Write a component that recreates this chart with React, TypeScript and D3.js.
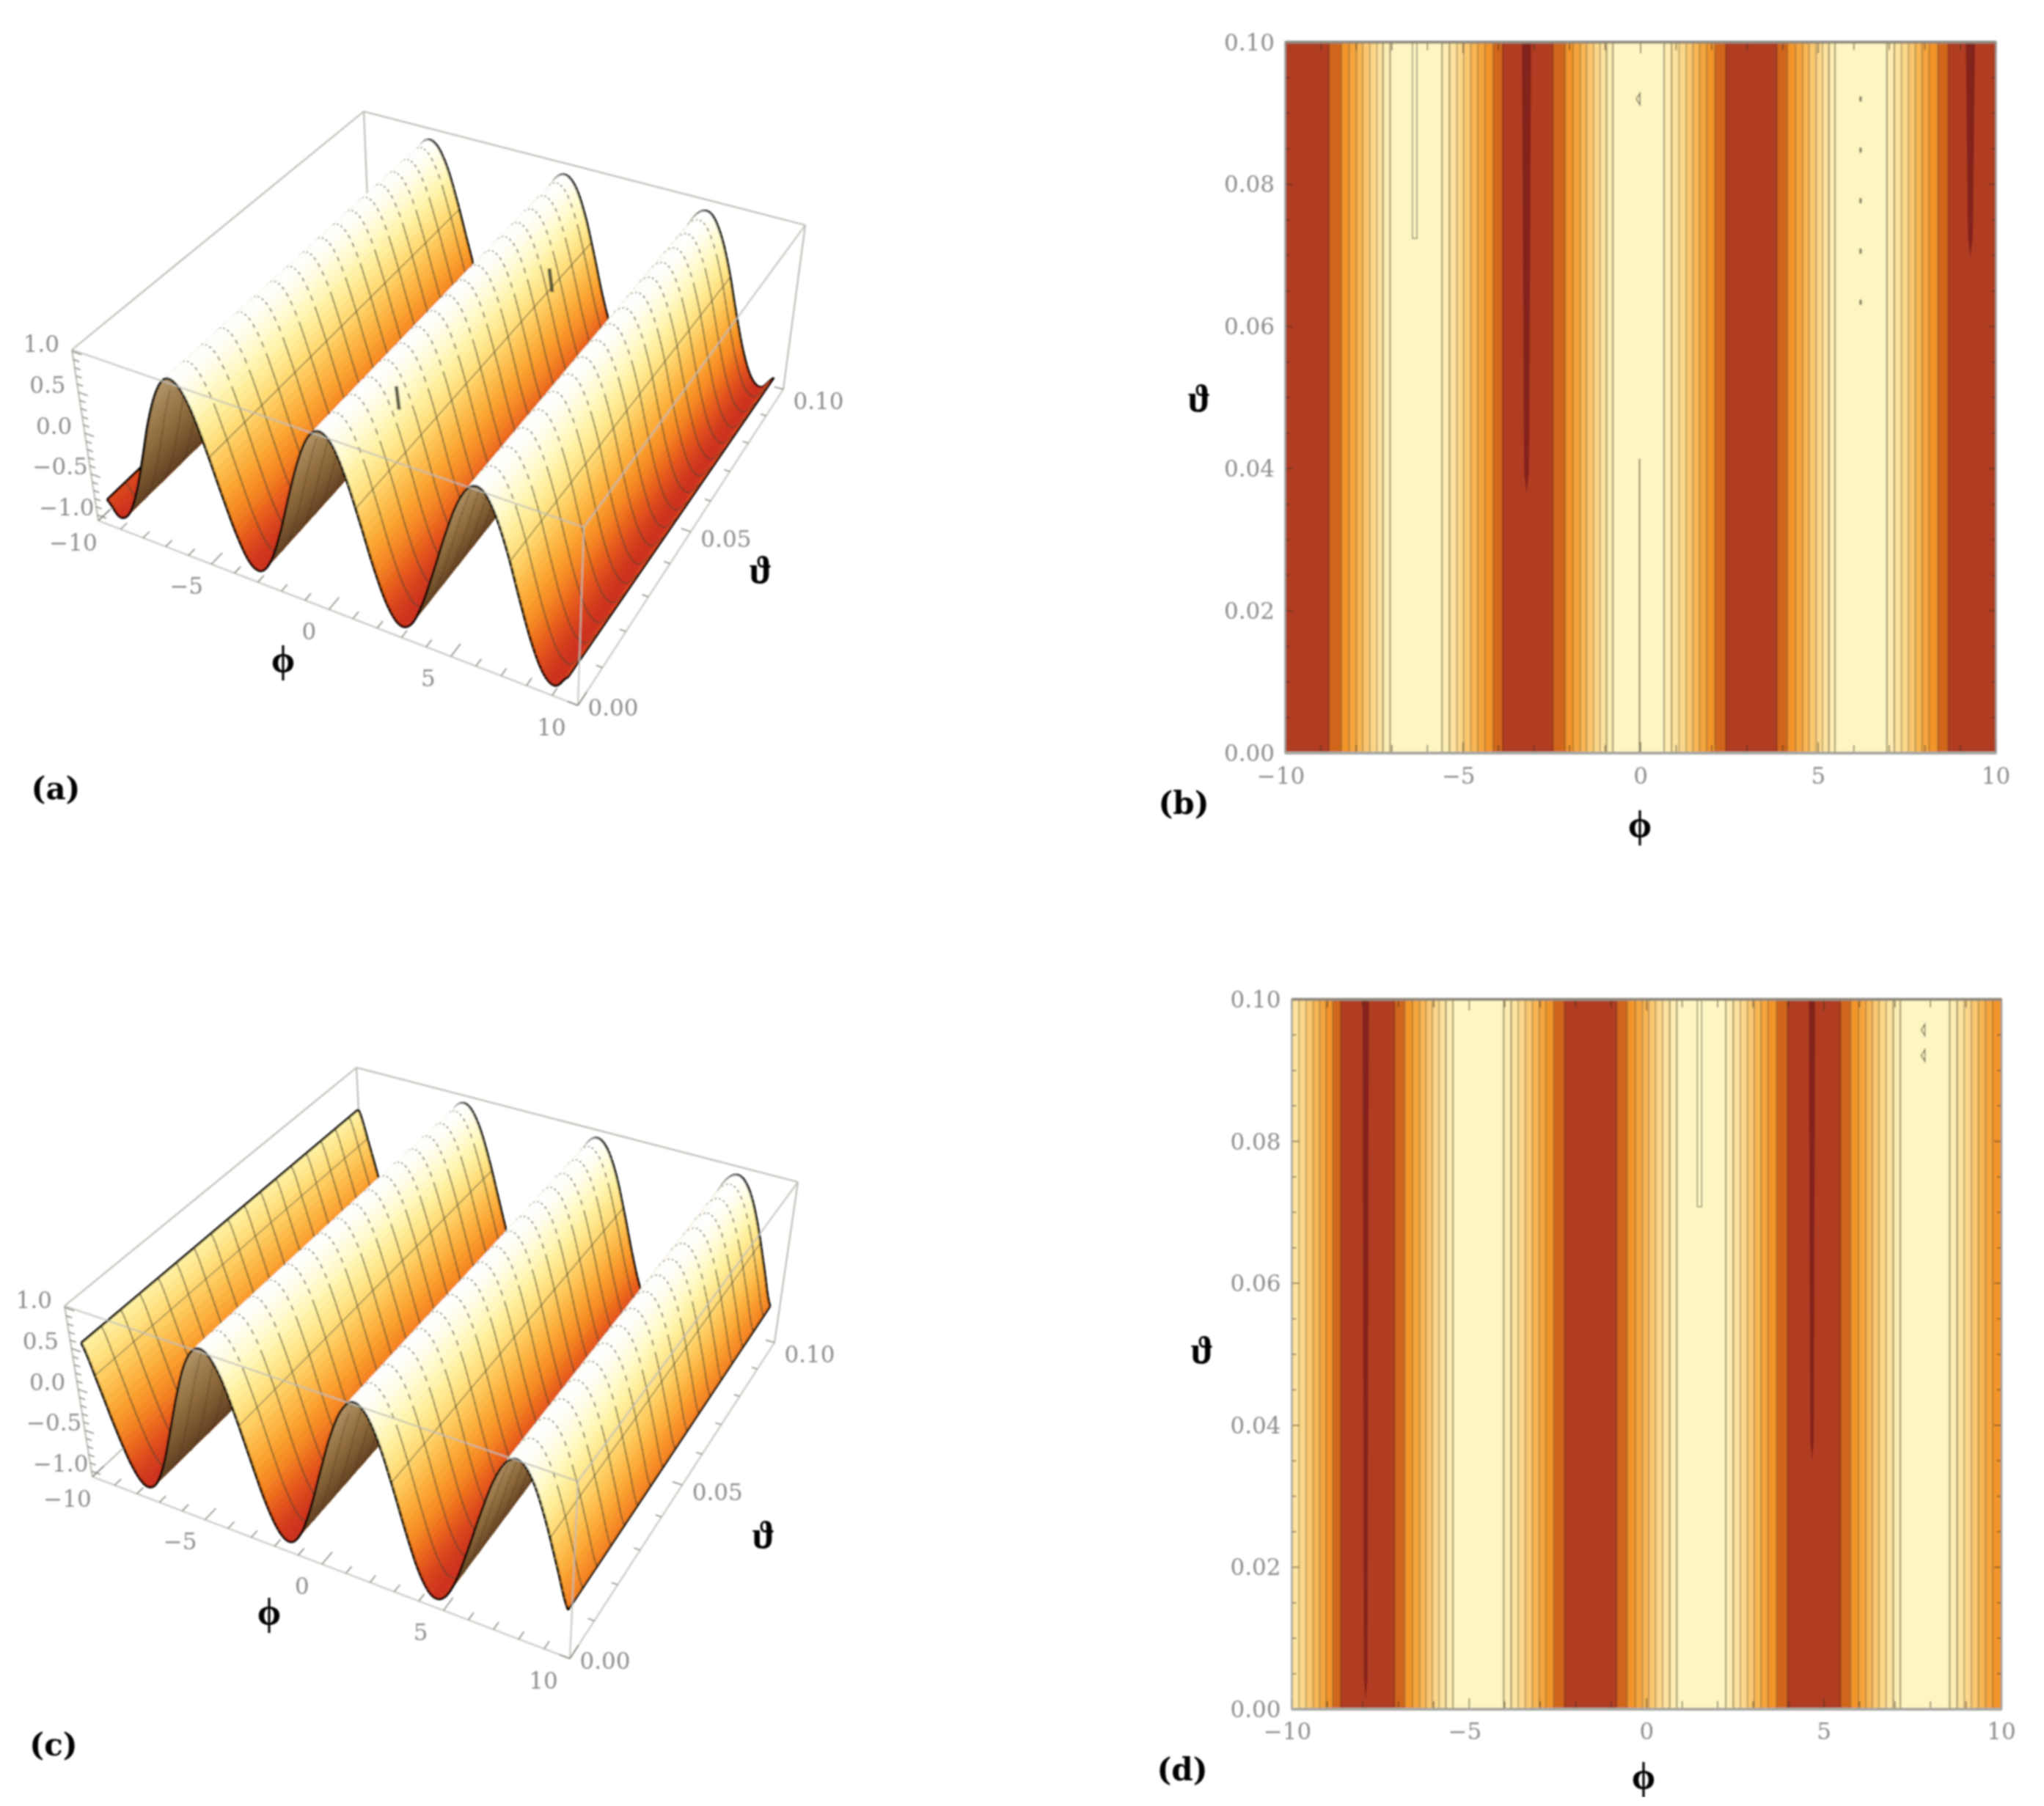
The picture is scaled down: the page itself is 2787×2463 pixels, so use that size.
import React from "react";
import * as d3 from "d3";

// ---------- values ----------
const PHI_GRID = [-10,-9.5,-9,-8.5,-8,-7.5,-7,-6.5,-6,-5.5,-5,-4.5,-4,-3.5,-3,-2.5,-2,-1.5,-1,-0.5,0,0.5,1,1.5,2,2.5,3,3.5,4,4.5,5,5.5,6,6.5,7,7.5,8,8.5,9,9.5,10];
const Z_A = [-0.84,-1,-0.91,-0.6,-0.15,0.35,0.75,0.98,0.96,0.71,0.28,-0.21,-0.65,-0.94,-0.99,-0.8,-0.42,0.07,0.54,0.88,1,0.88,0.54,0.07,-0.42,-0.8,-0.99,-0.94,-0.65,-0.21,0.28,0.71,0.96,0.98,0.75,0.35,-0.15,-0.6,-0.91,-1,-0.84];
const Z_C = [0.54,0.08,-0.41,-0.8,-0.99,-0.94,-0.66,-0.21,0.28,0.71,0.96,0.98,0.76,0.35,-0.14,-0.6,-0.91,-1,-0.84,-0.48,0,0.48,0.84,1,0.91,0.6,0.14,-0.35,-0.76,-0.98,-0.96,-0.71,-0.28,0.21,0.66,0.94,0.99,0.8,0.41,-0.08,-0.54];

const BAND_COLORS = ["#b03c24","#d0661f","#f2942a","#f5a53e","#f8b654","#fac770","#fcd78a","#fde39f","#fdedb2","#fdf5c2"];
const UP = [1,2,3,4,5,6,7,8,9];
const DOWN = [8,7,6,5,4,3,2,1,0];

const EDGES_B = [
  -8.77,-8.42,-8.2,-8,-7.82,-7.62,-7.42,-7.25,-7.05,
  -5.59,-5.38,-5.17,-4.98,-4.78,-4.58,-4.38,-4.15,-3.88,
  -2.47,-2.12,-1.9,-1.7,-1.52,-1.32,-1.14,-0.96,-0.78,
  0.66,0.87,1.08,1.28,1.47,1.66,1.86,2.09,2.4,
  3.83,4.13,4.36,4.56,4.74,4.94,5.12,5.3,5.47,
  6.93,7.14,7.34,7.54,7.73,7.92,8.12,8.36,8.66,
];
const LEVELS_B = [0,...UP,...DOWN,...UP,...DOWN,...UP,...DOWN];

const EDGES_D = [
  -9.8,-9.6,-9.4,-9.22,-9.04,-8.85,-8.62,
  -7.11,-6.82,-6.6,-6.4,-6.22,-6.04,-5.85,-5.66,-5.46,
  -4.03,-3.82,-3.62,-3.42,-3.22,-3.03,-2.84,-2.62,-2.31,
  -0.85,-0.55,-0.32,-0.12,0.06,0.25,0.45,0.65,0.85,
  2.23,2.44,2.64,2.84,3.03,3.22,3.42,3.66,3.97,
  5.46,5.75,5.97,6.18,6.36,6.55,6.75,6.95,7.15,
  8.54,8.75,8.95,9.15,9.35,9.55,9.75,
];
const LEVELS_D = [7,6,5,4,3,2,1,0,...UP,...DOWN,...UP,...DOWN,...UP,8,7,6,5,4,3,2];

// dark streaks and closed contours: [phi, theta where it ends, half width in phi]
const STREAKS_B = [[-3.21,0.0365,0.13],[9.28,0.0697,0.13]];
const STREAKS_D = [[-7.92,0.0013,0.09],[4.66,0.0349,0.09]];
const THIN_B = [-6.36,0.0724];
const THIN_D = [1.49,0.0708];
const LINE_B = [-0.03,0.0414];
const DOTS_B = [[6.19,0.092],[6.19,0.0848],[6.19,0.0777],[6.19,0.0706],[6.19,0.0634]];
const MARKS_B = [[-0.06,0.092]];
const MARKS_D = [[7.8,0.0957],[7.8,0.0921]];

const PHI_TICKS = [-10,-9,-8,-7,-6,-5,-4,-3,-2,-1,0,1,2,3,4,5,6,7,8,9,10];
const PHI_MAJOR = [-10,-5,0,5,10];
const THETA_MAJOR_2D = [0,0.02,0.04,0.06,0.08,0.1];
const THETA_TICKS_2D = [0,0.005,0.01,0.015,0.02,0.025,0.03,0.035,0.04,0.045,0.05,0.055,0.06,0.065,0.07,0.075,0.08,0.085,0.09,0.095,0.1];
const THETA_TICKS_3D = [0,0.01,0.02,0.03,0.04,0.05,0.06,0.07,0.08,0.09,0.1];
const THETA_MAJOR_3D = [0,0.05,0.1];
const Z_TICKS = [-1,-0.9,-0.8,-0.7,-0.6,-0.5,-0.4,-0.3,-0.2,-0.1,0,0.1,0.2,0.3,0.4,0.5,0.6,0.7,0.8,0.9,1];
const Z_MAJOR = [-1,-0.5,0,0.5,1];
const MESH_THETAS = [0.006,0.012,0.018,0.024,0.03,0.036,0.042,0.048,0.054,0.06,0.066,0.072,0.078,0.084,0.09,0.096];
const MESH_PHI_A = [-4.9,1.35,7.6];
const MESH_PHI_C = [-3.35,2.95,9.2,-9.6];
const GLITCH_A = [[0.9,0.02],[1.4,0.08]];

// ---------- styles ----------
const SERIF = "'DejaVu Serif', serif";
const GREEK = "'Liberation Serif', serif";
const TICK_FILL = "#8d8d8d";
const TICK_SIZE = 31;

const zColor = d3.scaleLinear<string>()
  .domain([-1,-0.75,-0.5,-0.25,0,0.25,0.5,0.75,1])
  .range(["#cc321f","#e5581c","#f48422","#faa432","#fdc050","#ffdc78","#fff0a0","#fffbd0","#ffffff"])
  .interpolate(d3.interpolateRgb as any);
const underColor = d3.scaleLinear<string>()
  .domain([-1,0,1])
  .range(["#5a3a1e","#8f6c3d","#b89c70"])
  .interpolate(d3.interpolateRgb as any);

type Pt = [number, number];
type Corners = { fl0: Pt; fr0: Pt; br0: Pt; bl0: Pt; fl1: Pt; fr1: Pt; br1: Pt; bl1: Pt };

const phiS = d3.scaleLinear().domain([-10,10]).range([0,1]);
const thetaS = d3.scaleLinear().domain([0,0.1]).range([0,1]);
const zS = d3.scaleLinear().domain([-1.07,1.02]).range([0,1]);
const warp = (t: number, k: number) => t / (t + k * (1 - t));

function makeProject(c: Corners) {
  return (phi: number, theta: number, z: number): Pt => {
    const u = warp(phiS(phi), 1.08), v = warp(thetaS(theta), 0.82), w = zS(z);
    const mix = (i: 0 | 1) => {
      const a0 = c.fl0[i] * (1 - u) + c.fr0[i] * u, b0 = c.bl0[i] * (1 - u) + c.br0[i] * u;
      const a1 = c.fl1[i] * (1 - u) + c.fr1[i] * u, b1 = c.bl1[i] * (1 - u) + c.br1[i] * u;
      const p0 = a0 * (1 - v) + b0 * v, p1 = a1 * (1 - v) + b1 * v;
      return p0 * (1 - w) + p1 * w;
    };
    return [mix(0), mix(1)];
  };
}

// the sheet sits slightly inside the drawn box: offsets of its front-left, front-right, back-right, back-left
function inset(c: Corners, o: number[][]): Corners {
  const s = (p: Pt, d: number[]): Pt => [p[0] + d[0], p[1] + d[1]];
  return { fl0: s(c.fl0, o[0]), fl1: s(c.fl1, o[0]), fr0: s(c.fr0, o[1]), fr1: s(c.fr1, o[1]), br0: s(c.br0, o[2]), br1: s(c.br1, o[2]), bl0: s(c.bl0, o[3]), bl1: s(c.bl1, o[3]) };
}

const gridIndex = d3.scaleLinear().domain([PHI_GRID[0], PHI_GRID[PHI_GRID.length - 1]]).range([0, PHI_GRID.length - 1]);
function profile(vals: number[], phi: number) {
  const t = gridIndex(phi);
  const i = Math.min(Math.floor(t), vals.length - 2);
  const f = t - i;
  const p0 = vals[Math.max(i - 1, 0)], p1 = vals[i], p2 = vals[i + 1], p3 = vals[Math.min(i + 2, vals.length - 1)];
  return 0.5 * (2 * p1 + (p2 - p0) * f + (2 * p0 - 5 * p1 + 4 * p2 - p3) * f * f + (3 * p1 - p0 - 3 * p2 + p3) * f * f * f);
}

const fmt2 = d3.format(".2f");
const fmt1 = d3.format(".1f");
const minus = (s: string) => s.replace("-", "−");

function Txt({ x, y, children, anchor = "middle", size = TICK_SIZE, fill = TICK_FILL, weight = "normal", family = SERIF }: any) {
  return <text x={x} y={y} textAnchor={anchor} dominantBaseline="central" fontFamily={family} fontSize={size} fill={fill} fontWeight={weight}>{children}</text>;
}

const PHI_LABEL_DX = [-34,-34,-27,-31,-36];
const THETA_LABEL_DY = [3,10,16];

function Surface({ corners, sheet, zs, meshPhi, glitches, phiLab, thetaLab, letter }: any) {
  const B = makeProject(corners);
  const P = makeProject(inset(corners, sheet));
  const N = 240;
  const phis = d3.range(N + 1).map((i) => -10 + (20 * i) / N);
  const line = d3.line();
  const boxColor = "#bdbdb6";
  const zFirst = profile(zs, -10), zLast = profile(zs, 10);
  const e = (a: Pt, b: Pt) => line([a, b]) as string;
  const strips = phis.slice(0, -1).map((p0, i) => {
    const p1 = phis[i + 1];
    const z0 = profile(zs, p0), z1 = profile(zs, p1);
    const q = [P(p0, 0, z0), P(p1, 0, z1), P(p1, 0.1, z1), P(p0, 0.1, z0)] as Pt[];
    const top = (d3.polygonArea(q) as number) > 0;
    const zm = (z0 + z1) / 2;
    const fill = top ? zColor(zm) : underColor(zm);
    const dotted = zm > 0.55;
    const mesh = (!dotted || i % 2 === 0) ? MESH_THETAS.map((t) => line([P(p0, t, z0), P(p1, t, z1)])).join("") : "";
    const cross = meshPhi.filter((m: number) => m >= p0 && m < p1).map((m: number) => line([P(m, 0, profile(zs, m)), P(m, 0.1, profile(zs, m))])).join("");
    return (
      <g key={i}>
        <path d={line(q) + "Z"} fill={fill} stroke={fill} strokeWidth={0.9} />
        {i === 0 && <path d={e(P(-10, 0, zFirst), P(-10, 0.1, zFirst))} stroke="#000" strokeWidth={3} fill="none" />}
        <path d={mesh} fill="none" stroke={top ? "#47442e" : "#3d2c18"} strokeOpacity={top ? 0.68 : 0.3} strokeWidth={1.9} />
        {cross && <path d={cross} fill="none" stroke="#4d4a33" strokeOpacity={0.55} strokeWidth={1.6} />}
        <path d={line([P(p0, 0.1, z0), P(p1, 0.1, z1)]) as string} fill="none" stroke="#000" strokeWidth={3} />
        <path d={line([P(p0, 0, z0), P(p1, 0, z1)]) as string} fill="none" stroke="#000" strokeWidth={3.2} />
      </g>
    );
  });
  const ticks: string[] = [];
  PHI_TICKS.forEach((p) => ticks.push(e(B(p, 0, -1.07), B(p, PHI_MAJOR.includes(p) ? 0.0035 : 0.002, -1.07))));
  THETA_TICKS_3D.forEach((t) => ticks.push(e(B(10, t, -1.07), B(THETA_MAJOR_3D.includes(t) ? 9.6 : 9.75, t, -1.07))));
  Z_TICKS.forEach((z) => ticks.push(e(B(-10, 0, z), B(Z_MAJOR.includes(z) ? -9.6 : -9.75, 0, z))));
  return (
    <g>
      <g fill="none" stroke={boxColor} strokeWidth={2.2}>
        <path d={e(corners.fl1, corners.bl1)} />
        <path d={e(corners.bl1, corners.br1)} />
        <path d={e(corners.bl0, corners.bl1)} />
        <path d={e(corners.fl0, corners.fl1)} />
        <path d={e(corners.bl0, corners.fl0)} />
        <path d={e(corners.br0, corners.br1)} />
      </g>
      {strips}
      <path d={e(P(10, 0, zLast), P(10, 0.1, zLast))} stroke="#000" strokeWidth={2.6} fill="none" />
      {glitches.map(([p, t]: number[], i: number) => {
        const a = P(p, t, profile(zs, p));
        return <path key={i} d={e(a, [a[0] - 4, a[1] - 32] as Pt)} stroke="#3a3a2a" strokeWidth={5} strokeOpacity={0.8} fill="none" />;
      })}
      <g fill="none" stroke={boxColor} strokeOpacity={0.85} strokeWidth={2.2}>
        <path d={e(corners.fl1, corners.fr1)} />
        <path d={e(corners.fr1, corners.br1)} />
        <path d={e(corners.fl0, corners.fr0)} />
        <path d={e(corners.fr0, corners.br0)} />
        <path d={e(corners.fr0, corners.fr1)} />
      </g>
      <path d={ticks.join("")} fill="none" stroke="#8a8a82" strokeWidth={1.6} />
      {PHI_MAJOR.map((p, i) => {
        const a = B(p, 0, -1.07);
        return <Txt key={p} x={a[0] + PHI_LABEL_DX[i]} y={a[1] + 30}>{minus(String(p))}</Txt>;
      })}
      {THETA_MAJOR_3D.map((t, i) => {
        const a = B(10, t, -1.07);
        return <Txt key={t} x={a[0] + 48} y={a[1] + THETA_LABEL_DY[i]}>{fmt2(t)}</Txt>;
      })}
      {Z_MAJOR.map((z) => {
        const a = B(-10, 0, z);
        return <Txt key={z} x={a[0] - 42} y={a[1] - 10}>{minus(fmt1(z))}</Txt>;
      })}
      <Txt x={phiLab[0]} y={phiLab[1] - 5} size={52} fill="#000" weight="bold" family={GREEK}>ϕ</Txt>
      <Txt x={thetaLab[0]} y={thetaLab[1]} size={52} fill="#000" weight="bold" family={GREEK}>ϑ</Txt>
      <Txt x={letter[1]} y={letter[2]} size={42} fill="#000" weight="bold">{letter[0]}</Txt>
    </g>
  );
}

function Contour({ box, edges, levels, streaks, thin, line: lineSeg, dots, marks, yLabelRight, xLabelY, phiLab, thetaLab, letter }: any) {
  const [x0, x1, yTop, yBot] = box;
  const x = d3.scaleLinear().domain([-10, 10]).range([x0, x1]);
  const y = d3.scaleLinear().domain([0, 0.1]).range([yBot, yTop]);
  const bounds = [-10, ...edges, 10];
  const h = yBot - yTop;
  return (
    <g>
      {levels.map((lv: number, i: number) => (
        <rect key={i} x={x(bounds[i])} y={yTop} width={x(bounds[i + 1]) - x(bounds[i]) + 0.6} height={h} fill={BAND_COLORS[lv]} />
      ))}
      {edges.map((ed: number, i: number) => {
        const dark = Math.min(levels[i], levels[i + 1]);
        return <line key={i} x1={x(ed)} x2={x(ed)} y1={yTop} y2={yBot} stroke={dark === 0 ? "#6e2a12" : "#5a5030"} strokeOpacity={dark === 0 ? 0.55 : dark >= 7 ? 0.6 : 0.38} strokeWidth={2} />;
      })}
      {streaks.map(([p, t, w]: number[], i: number) => (
        <path key={i} d={`M${x(p - w)},${yTop}L${x(p + w)},${yTop}L${x(p + w * 0.55)},${y(t + 0.003)}L${x(p)},${y(t)}L${x(p - w * 0.55)},${y(t + 0.003)}Z`} fill="#84211a" />
      ))}
      <rect x={x(thin[0]) - 3} y={yTop} width={6} height={y(thin[1]) - yTop} fill="none" stroke="#77725a" strokeOpacity={0.8} strokeWidth={1.5} />
      {lineSeg && <line x1={x(lineSeg[0])} x2={x(lineSeg[0])} y1={y(lineSeg[1])} y2={yBot} stroke="#5a5030" strokeOpacity={0.7} strokeWidth={2} />}
      {dots.map(([p, t]: number[], i: number) => (
        <ellipse key={i} cx={x(p)} cy={y(t)} rx={2} ry={4} fill="#6a6450" fillOpacity={0.75} />
      ))}
      {marks.map(([p, t]: number[], i: number) => (
        <path key={i} d={`M${x(p) + 2},${y(t) - 8}L${x(p) - 3},${y(t)}L${x(p) + 2},${y(t) + 8}Z`} fill="none" stroke="#6a6450" strokeWidth={1.4} />
      ))}
      <g stroke="#3c2f20" strokeOpacity={0.7} strokeWidth={1.5}>
        {PHI_TICKS.map((p) => {
          const len = PHI_MAJOR.includes(p) ? 15 : 11;
          return <g key={p}><line x1={x(p)} x2={x(p)} y1={yBot} y2={yBot - len} /><line x1={x(p)} x2={x(p)} y1={yTop} y2={yTop + len} /></g>;
        })}
        {THETA_TICKS_2D.map((t) => {
          const len = THETA_MAJOR_2D.includes(t) ? 10 : 6;
          return <g key={t}><line x1={x0} x2={x0 + len} y1={y(t)} y2={y(t)} /><line x1={x1} x2={x1 - len} y1={y(t)} y2={y(t)} /></g>;
        })}
      </g>
      <rect x={x0} y={yTop} width={x1 - x0} height={h} fill="none" stroke="#9c9c96" strokeWidth={2.4} />
      <line x1={x0} x2={x1} y1={yTop} y2={yTop} stroke="#8f8a7e" strokeWidth={4} />
      <line x1={x0} x2={x1} y1={yBot} y2={yBot} stroke="#a8a8a2" strokeWidth={4} />
      {PHI_MAJOR.map((p) => <Txt key={p} x={x(p) - (p < 0 ? 6 : 0)} y={xLabelY}>{minus(String(p))}</Txt>)}
      {THETA_MAJOR_2D.map((t) => <Txt key={t} x={yLabelRight} y={y(t)} anchor="end">{fmt2(t)}</Txt>)}
      <Txt x={phiLab[0]} y={phiLab[1] - 5} size={52} fill="#000" weight="bold" family={GREEK}>ϕ</Txt>
      <Txt x={thetaLab[0]} y={thetaLab[1]} size={52} fill="#000" weight="bold" family={GREEK}>ϑ</Txt>
      <Txt x={letter[1]} y={letter[2]} size={42} fill="#000" weight="bold">{letter[0]}</Txt>
    </g>
  );
}

const CORNERS_A: Corners = { fl0: [134,710], fr0: [788,962], br0: [1068,531], bl0: [505,366], fl1: [98,477], fr1: [796,719], br1: [1098,307], bl1: [496,152] };
const CORNERS_C: Corners = { fl0: [126,2014], fr0: [777,2262], br0: [1056,1831], bl0: [497,1670], fl1: [88,1781], fr1: [788,2020], br1: [1088,1612], bl1: [486,1456] };
const SHEET_A = [[16,-3],[-14,-12],[-16,9],[-14,10]];
const SHEET_C = [[14,-3],[-5,-5],[-14,6],[0,8]];

export default function App() {
  return (
    <svg width={2787} height={2463} viewBox="0 0 2787 2463" style={{ position: "absolute", left: 0, top: 0, display: "block", background: "#fff" }}>
      <defs>
        <filter id="soft" x="0" y="0" width="100%" height="100%"><feGaussianBlur stdDeviation="0.8" /></filter>
      </defs>
      <g filter="url(#soft)">
        <Surface corners={CORNERS_A} sheet={SHEET_A} zs={Z_A} meshPhi={MESH_PHI_A} glitches={GLITCH_A} phiLab={[386,904]} thetaLab={[1037,777]} letter={["(a)",76,1075]} />
        <Surface corners={CORNERS_C} sheet={SHEET_C} zs={Z_C} meshPhi={MESH_PHI_C} glitches={[]} phiLab={[367,2203]} thetaLab={[1041,2093]} letter={["(c)",73,2379]} />
        <Contour box={[1752.5,2721.5,57.5,1027]} edges={EDGES_B} levels={LEVELS_B} streaks={STREAKS_B} thin={THIN_B} line={LINE_B} dots={DOTS_B} marks={MARKS_B} yLabelRight={1738} xLabelY={1058} phiLab={[2236,1129]} thetaLab={[1635,543]} letter={["(b)",1614,1095]} />
        <Contour box={[1761.5,2729,1363,2331]} edges={EDGES_D} levels={LEVELS_D} streaks={STREAKS_D} thin={THIN_D} line={null} dots={[]} marks={MARKS_D} yLabelRight={1746.5} xLabelY={2361} phiLab={[2241,2427]} thetaLab={[1639,1841]} letter={["(d)",1612,2413]} />
      </g>
    </svg>
  );
}
